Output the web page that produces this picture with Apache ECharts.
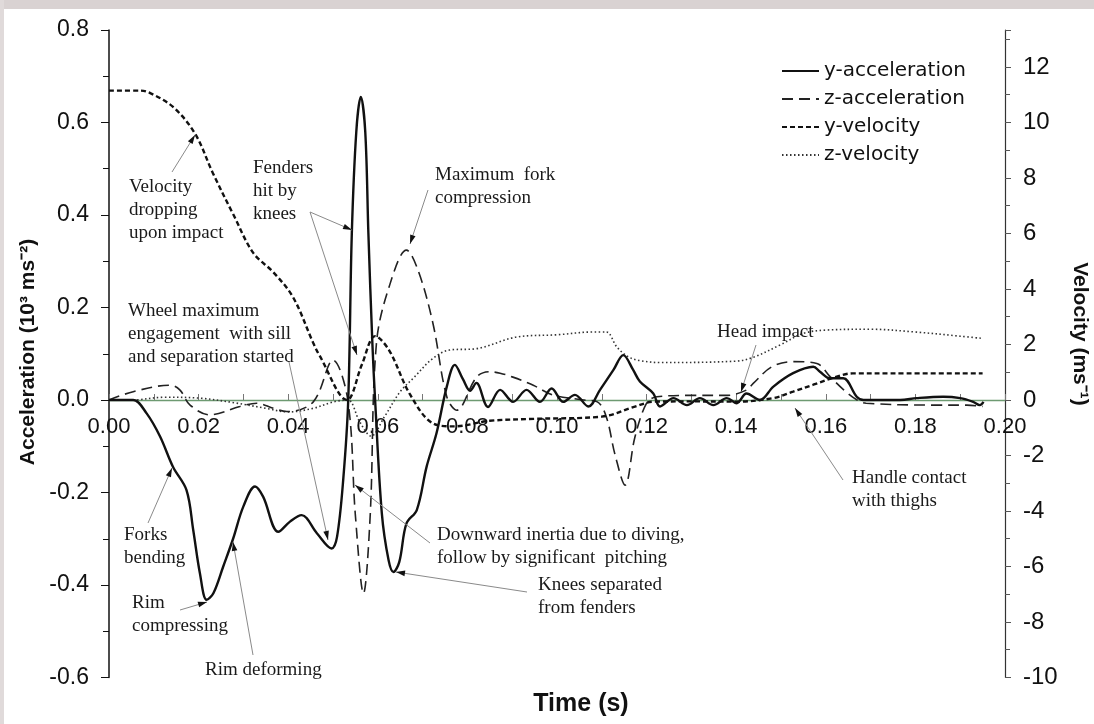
<!DOCTYPE html>
<html>
<head>
<meta charset="utf-8">
<script src="https://cdn.jsdelivr.net/npm/echarts/dist/echarts.min.js"></script>
<style>
html,body{margin:0;padding:0;background:#fff;}
#c{width:1094px;height:724px;}
</style>
</head>
<body>
<div id="c"></div>
<script>
// ---- data (time in s) ----
const tYAcc = [0,0.0054,0.0084,0.0114,0.0143,0.0173,0.0188,0.0203,0.0218,0.0233,0.0255,0.0277,0.030,0.0326,0.0344,0.0378,0.0404,0.043,0.0464,0.0497,0.0509,0.0523,0.0534,0.0542,0.0552,0.0562,0.0572,0.0579,0.0588,0.0594,0.0609,0.0624,0.0635,0.0648,0.0664,0.0687,0.0709,0.0731,0.0754,0.0772,0.0790,0.0806,0.0820,0.0846,0.0873,0.0902,0.0932,0.0962,0.0988,0.1014,0.104,0.107,0.1096,0.1126,0.1148,0.117,0.1185,0.1215,0.123,0.126,0.129,0.1319,0.1349,0.1379,0.1401,0.1423,0.1453,0.1483,0.1527,0.1572,0.1587,0.1609,0.1639,0.1669,0.1684,0.1766,0.1803,0.1862,0.190,0.1929,0.1944,0.1952];
const yAcc  = [0,0,-0.029,-0.079,-0.145,-0.195,-0.281,-0.375,-0.432,-0.418,-0.36,-0.30,-0.23,-0.187,-0.209,-0.285,-0.263,-0.249,-0.288,-0.321,-0.296,-0.17,0,0.36,0.58,0.655,0.58,0.36,0.12,0,-0.245,-0.346,-0.372,-0.35,-0.267,-0.238,-0.144,-0.072,0.029,0.076,0.045,0.02,0.037,-0.015,0.022,-0.004,0.022,-0.004,0.025,-0.004,0.011,-0.014,0.022,0.065,0.097,0.065,0.04,0.014,-0.014,0.004,-0.011,0.004,-0.011,0.004,-0.007,0.014,0,0.029,0.058,0.072,0.061,0.047,0.047,0.007,0,0,0.004,0.007,0.004,-0.004,-0.011,-0.004];

const tZAcc = [0,0.0054,0.0136,0.0158,0.0181,0.0225,0.0292,0.033,0.0367,0.0397,0.0456,0.050,0.0533,0.0550,0.0568,0.0583,0.0597,0.0627,0.0664,0.0690,0.0723,0.0754,0.0776,0.0821,0.085,0.0873,0.090,0.0947,0.099,0.106,0.109,0.111,0.1130,0.1152,0.1174,0.120,0.1223,0.1300,0.1380,0.1424,0.1438,0.148,0.1527,0.158,0.161,0.164,0.167,0.169,0.1840,0.1915,0.195];
const zAcc  = [0,0.018,0.032,0.022,-0.011,-0.032,-0.014,-0.007,-0.018,-0.025,-0.004,0.086,0,-0.25,-0.418,-0.25,0.123,0.25,0.324,0.28,0.166,0.007,-0.022,0.05,0.061,0.058,0.05,0.032,0.011,0,-0.004,-0.036,-0.12,-0.184,-0.08,-0.007,0.007,0.010,0.010,0.022,0.036,0.072,0.083,0.079,0.05,0.022,0,-0.007,-0.011,-0.011,-0.014];

const tYVel = [0,0.007,0.0092,0.0143,0.0192,0.0232,0.0277,0.0322,0.0367,0.0411,0.0456,0.047,0.0531,0.0565,0.0594,0.0625,0.0672,0.0723,0.077,0.085,0.095,0.110,0.1174,0.1215,0.130,0.140,0.1483,0.1527,0.1572,0.1617,0.1660,0.175,0.195];
const yVel  = [11.15,11.15,11.06,10.56,9.6,8.17,6.7,5.3,4.6,3.7,2.05,1.6,0,1.3,2.3,1.8,0.2,-0.84,-0.95,-0.75,-0.68,-0.6,-0.24,-0.06,-0.05,-0.06,0.07,0.3,0.55,0.8,0.96,0.96,0.96];

const tZVel = [0,0.005,0.0125,0.020,0.028,0.035,0.040,0.0456,0.050,0.0533,0.0560,0.0585,0.0615,0.065,0.068,0.0723,0.076,0.082,0.091,0.100,0.108,0.1110,0.1134,0.1160,0.1185,0.1230,0.140,0.1440,0.150,0.155,0.160,0.170,0.180,0.190,0.195];
const zVel  = [0,0,0.1,0.07,-0.1,-0.3,-0.43,-0.3,-0.07,0,-0.8,-1.3,-0.6,0.3,0.8,1.5,1.8,1.85,2.27,2.35,2.45,2.45,1.9,1.55,1.42,1.35,1.4,1.55,2.0,2.4,2.52,2.55,2.45,2.3,2.22];

const xTicks = ['0.00','0.02','0.04','0.06','0.08','0.10','0.12','0.14','0.16','0.18','0.20'];
const seriesNames = ['y-acceleration','z-acceleration','y-velocity','z-velocity'];

function pairs(t, v){ return t.map((x,i)=>[x, v[i]]); }

const chart = echarts.init(document.getElementById('c'), null, {renderer:'canvas'});

const axisFont = 'Liberation Sans';
const lineCol = '#111';

// annotations: text blocks (serif) with arrows (pixel layout)
const notes = [
  {text:'Velocity\ndropping\nupon impact', x:129, y:176, arrows:[[172,172,195,135]]},
  {text:'Fenders\nhit by\nknees', x:253, y:157, arrows:[[310,212,352,230],[310,212,357,355]]},
  {text:'Maximum  fork\ncompression', x:435, y:164, arrows:[[428,190,410,244]]},
  {text:'Wheel maximum\nengagement  with sill\nand separation started', x:128, y:300, arrows:[[289,362,328,540]]},
  {text:'Head impact', x:717, y:321, arrows:[[756,345,741,392]]},
  {text:'Forks\nbending', x:124, y:524, arrows:[[148,523,172,468]]},
  {text:'Downward inertia due to diving,\nfollow by significant  pitching', x:437, y:524, arrows:[[430,543,355,485]]},
  {text:'Knees separated\nfrom fenders', x:538, y:574, arrows:[[527,592,396,572]]},
  {text:'Handle contact\nwith thighs', x:852, y:467, arrows:[[843,480,795,408]]},
  {text:'Rim\ncompressing', x:132, y:592, arrows:[[180,610,207,602]]},
  {text:'Rim deforming', x:205, y:659, arrows:[[253,655,233,542]]}
];

const graphics = [
  {type:'rect', shape:{x:0,y:0,width:1094,height:9}, style:{fill:'#d9d2d2'}, silent:true},
  {type:'rect', shape:{x:0,y:0,width:4,height:724}, style:{fill:'#e0dada'}, silent:true},
  {type:'text', x:581, y:704, style:{text:'Time (s)', font:'bold 25px "Liberation Sans"', fill:'#111', align:'center', verticalAlign:'middle'}},
  {type:'text', x:1080, y:334, rotation:-Math.PI/2, style:{text:'Velocity (ms\u207B\u00B9)', font:'bold 21px "Liberation Sans"', fill:'#111', align:'center', verticalAlign:'middle'}},
  {type:'text', x:28, y:352, rotation:Math.PI/2, style:{text:'Acceleration (10\u00B3 ms\u207B\u00B2)', font:'bold 21px "Liberation Sans"', fill:'#111', align:'center', verticalAlign:'middle'}}
];
notes.forEach(n=>{
  graphics.push({type:'text', x:n.x, y:n.y, z:20, style:{text:n.text, font:'19px "Liberation Serif"', lineHeight:23, fill:'#1a1a1a', align:'left', verticalAlign:'top'}});
  n.arrows.forEach(a=>{
    const [x1,y1,x2,y2]=a;
    graphics.push({type:'line', z:20, shape:{x1,y1,x2,y2}, style:{stroke:'#8a8a8a', lineWidth:1}});
    const ang=Math.atan2(y2-y1,x2-x1), L=9, W=2.8;
    const bx=x2-L*Math.cos(ang), by=y2-L*Math.sin(ang);
    const px=-Math.sin(ang), py=Math.cos(ang);
    graphics.push({type:'polygon', z:21, shape:{points:[[x2,y2],[bx+W*px,by+W*py],[bx-W*px,by-W*py]]}, style:{fill:'#111'}});
  });
});

const option = {
  backgroundColor:'#fff',
  animation:false,
  grid:{left:109, right:89, top:30, bottom:46.5, containLabel:false},
  legend:{
    data:seriesNames, orient:'vertical', left:776, top:56,
    itemWidth:37, itemHeight:14, itemGap:8,
    itemStyle:{opacity:0},
    textStyle:{fontFamily:'DejaVu Sans', fontSize:20, color:'#111', lineHeight:20}
  },
  xAxis:{
    type:'value', min:0, max:0.2, interval:0.02, position:'bottom', offset:-277.5,
    axisLine:{onZero:false, lineStyle:{color:'#6e9a72', width:1.4}},
    axisTick:{inside:true, length:6, lineStyle:{color:'#777'}},
    minorTick:{show:true, splitNumber:2, length:6, lineStyle:{color:'#777'}},
    splitLine:{show:false},
    axisLabel:{fontFamily:axisFont, fontSize:22, color:'#111', margin:16,
      formatter:(v)=>{ const i=Math.round(v/0.02); return Math.abs(v-i*0.02)<1e-9 ? xTicks[i] : ''; }}
  },
  yAxis:[
    {type:'value', min:-0.6, max:0.8, interval:0.2, position:'left',
     axisLine:{show:true, onZero:false, lineStyle:{color:'#111', width:1.5}},
     axisTick:{show:true, length:8, lineStyle:{color:'#111'}},
     minorTick:{show:true, splitNumber:2, length:6, lineStyle:{color:'#111'}},
     splitLine:{show:false},
     axisLabel:{fontFamily:axisFont, fontSize:23, color:'#111', margin:20, formatter:(v)=>v.toFixed(1)}
    },
    {type:'value', min:-10, max:13.3333, interval:2, position:'right',
     axisLine:{show:true, onZero:false, lineStyle:{color:'#333', width:1.2}},
     axisTick:{show:true, length:6, lineStyle:{color:'#555'}},
     minorTick:{show:true, splitNumber:2, length:5, lineStyle:{color:'#555'}},
     splitLine:{show:false},
     axisLabel:{fontFamily:axisFont, fontSize:24, color:'#111', margin:18,
       formatter:(v)=> Math.abs(v-Math.round(v))>1e-6 ? '' : String(Math.round(v))}
    }
  ],
  series:[
    {name:seriesNames[0], type:'line', yAxisIndex:0, data:pairs(tYAcc,yAcc), symbol:'none', smooth:0.35,
     lineStyle:{color:lineCol, width:2.4, type:'solid'}, itemStyle:{color:lineCol}, z:5},
    {name:seriesNames[1], type:'line', yAxisIndex:0, data:pairs(tZAcc,zAcc), symbol:'none', smooth:0.35,
     lineStyle:{color:'#222', width:1.6, type:[11,6]}, itemStyle:{color:'#222'}, z:4},
    {name:seriesNames[2], type:'line', yAxisIndex:1, data:pairs(tYVel,yVel), symbol:'none', smooth:0.35,
     lineStyle:{color:lineCol, width:2.4, type:[5,3]}, itemStyle:{color:lineCol}, z:4},
    {name:seriesNames[3], type:'line', yAxisIndex:1, data:pairs(tZVel,zVel), symbol:'none', smooth:0.35,
     lineStyle:{color:'#333', width:1.6, type:[1.5,2.5]}, itemStyle:{color:'#333'}, z:3}
  ],
  graphic:graphics
};
chart.setOption(option);
</script>
</body>
</html>
